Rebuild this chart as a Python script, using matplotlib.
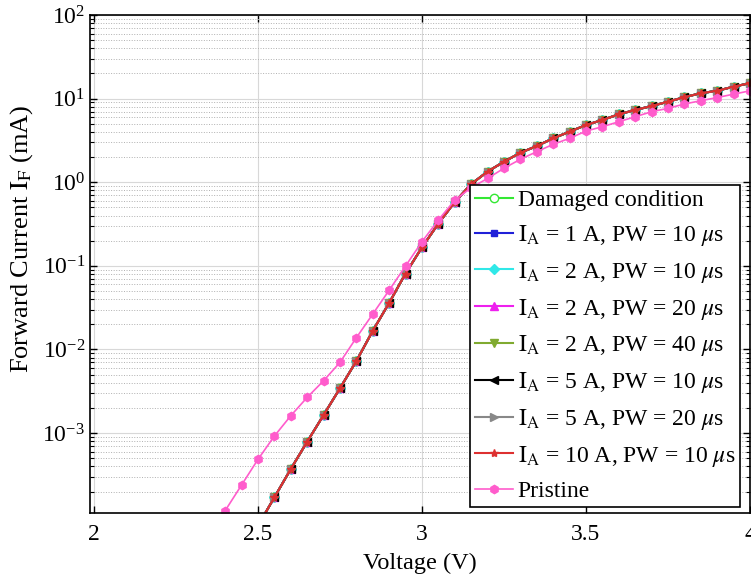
import numpy as np
import matplotlib
matplotlib.use('Agg')
from matplotlib import pyplot as plt
from matplotlib.ticker import LogLocator, NullFormatter, FixedLocator

plt.rcParams['font.family'] = ['Liberation Serif', 'DejaVu Serif']
plt.rcParams['mathtext.fontset'] = 'stix'

# voltage steps (V)
v_damaged = [2.50, 2.55, 2.60, 2.65, 2.70, 2.75, 2.80, 2.85, 2.90, 2.95,
             3.00, 3.05, 3.10, 3.15, 3.20, 3.25, 3.30, 3.35, 3.40, 3.45,
             3.50, 3.55, 3.60, 3.65, 3.70, 3.75, 3.80, 3.85, 3.90, 3.95, 4.00]
v_pristine = [2.40, 2.45] + v_damaged[:]

# forward current (mA), all stressed conditions overlap on the picture
i_damaged = [7.8e-5, 1.70e-4, 3.71e-4, 7.87e-4, 1.64e-3, 3.43e-3, 7.26e-3, 1.67e-2,
             3.6e-2, 8.1e-2, 0.166, 0.32, 0.58, 0.95, 1.34, 1.76, 2.25, 2.71,
             3.35, 4.02, 4.83, 5.55, 6.49, 7.31, 8.15, 9.18, 10.4, 11.6, 12.4,
             13.9, 15.3]
i_pristine = [1.18e-4, 2.39e-4, 4.84e-4, 9.2e-4, 1.61e-3, 2.67e-3, 4.22e-3, 7.0e-3,
              1.38e-2, 2.65e-2, 5.1e-2, 9.95e-2, 0.194, 0.353, 0.61, 0.86, 1.11,
              1.47, 1.88, 2.32, 2.84, 3.35, 4.09, 4.61, 5.29, 6.07, 6.97, 7.65,
              8.62, 9.44, 10.3, 11.3, 12.4]

labels = ['Damaged condition',
          r'$\mathrm{I_A}$ = 1 A, PW = 10 $\mu$s',
          r'$\mathrm{I_A}$ = 2 A, PW = 10 $\mu$s',
          r'$\mathrm{I_A}$ = 2 A, PW = 20 $\mu$s',
          r'$\mathrm{I_A}$ = 2 A, PW = 40 $\mu$s',
          r'$\mathrm{I_A}$ = 5 A, PW = 10 $\mu$s',
          r'$\mathrm{I_A}$ = 5 A, PW = 20 $\mu$s',
          r'$\mathrm{I_A}$ = 10 A, PW = 10 $\mu$s']
colors = ['#33e833', '#2020d8', '#30e8e8', '#ee20ee', '#80aa30',
          '#000000', '#888888', '#dd3030']
markers = ['o', 's', 'D', '^', 'v', '<', '>', '*']

fig = plt.figure(figsize=(7.51, 5.79), dpi=100)
ax = fig.add_axes([0.1198, 0.1135, 0.8788, 0.8606])

for lab, c, m in zip(labels, colors, markers):
    face = 'white' if m == 'o' else c
    ms = 5 if m in ('D', 's') else 6
    ax.plot(v_damaged, i_damaged, color=c, marker=m, markersize=ms,
            markerfacecolor=face, markeredgecolor=c, linewidth=1.5, label=lab)

ax.plot(v_pristine, i_pristine, color='#ff5ccc', marker='h', markersize=6,
        markerfacecolor='#ff5ccc', linewidth=1.2, label='Pristine')

ax.set_yscale('log')
ax.set_xlim(1.988, 4.0)
ax.set_ylim(1.1e-4, 100)

ax.xaxis.set_major_locator(FixedLocator([2, 2.5, 3, 3.5, 4]))
ax.set_xticklabels(['2', '2.5', '3', '3.5', '4'])
ax.yaxis.set_major_locator(LogLocator(base=10, numticks=10))
ax.yaxis.set_minor_locator(LogLocator(base=10, subs=np.arange(2, 10), numticks=20))
ax.yaxis.set_minor_formatter(NullFormatter())

ax.tick_params(which='both', direction='in', top=True, right=True, labelsize=17)
ax.tick_params(which='major', length=5, width=1)
ax.tick_params(which='minor', length=3, width=0.8)
ax.tick_params(axis='x', pad=8)

ax.grid(True, which='major', color='#d8d8d8', linewidth=0.8, linestyle='-')
ax.grid(True, which='minor', axis='y', color='#b0b0b0', linewidth=0.7, linestyle=':')
ax.set_axisbelow(True)
for s in ax.spines.values():
    s.set_linewidth(1.2)

ax.set_xlabel('Voltage (V)', fontsize=17.5, labelpad=5)
ax.set_ylabel(r'Forward Current $\mathrm{I_F}$ (mA)', fontsize=19)
ax.yaxis.set_label_coords(-0.084, 0.55)

leg = ax.legend(loc='lower right', bbox_to_anchor=(0.985, 0.013), fontsize=17,
                fancybox=False, edgecolor='black', framealpha=1,
                handlelength=1.6, handletextpad=0.2, labelspacing=0.5,
                borderpad=0.2, borderaxespad=0)
leg.get_frame().set_linewidth(1.2)

fig.savefig('out.png', dpi=100)
